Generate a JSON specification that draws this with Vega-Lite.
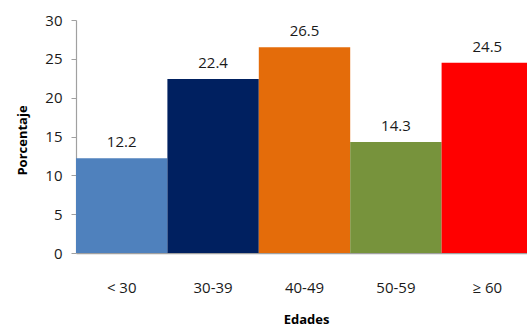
{
  "$schema": "https://vega.github.io/schema/vega-lite/v6.json",
  "autosize": {"type": "none"},
  "width": 451,
  "height": 233,
  "padding": {"left": 76, "top": 20, "right": 0, "bottom": 73},
  "background": "white",
  "config": {"view": {"stroke": null}, "font": "Open Sans"},
  "data": {
    "values": [
      {"edad": "< 30", "porcentaje": 12.2, "color": "#4F81BD"},
      {"edad": "30-39", "porcentaje": 22.4, "color": "#002060"},
      {"edad": "40-49", "porcentaje": 26.5, "color": "#E46C0A"},
      {"edad": "50-59", "porcentaje": 14.3, "color": "#77933C"},
      {"edad": "≥ 60", "porcentaje": 24.5, "color": "#FF0000"}
    ]
  },
  "encoding": {
    "x": {
      "field": "edad",
      "type": "nominal",
      "sort": null,
      "scale": {"range": [0, 457], "paddingInner": 0, "paddingOuter": 0},
      "axis": {
        "title": "Edades",
        "titleFont": "Open Sans",
        "titleFontSize": 13,
        "titleFontWeight": "bold",
        "titleColor": "#000000",
        "titleBaseline": "alphabetic",
        "titleX": 230,
        "titleY": 70,
        "labelAngle": 0,
        "labelFont": "Open Sans",
        "labelFontSize": 15,
        "labelColor": "#1a1a1a",
        "labelBaseline": "alphabetic",
        "labelPadding": 39,
        "ticks": false,
        "tickSize": 0,
        "domainColor": "#a0a0a0",
        "domainWidth": 1.5
      }
    },
    "y": {
      "field": "porcentaje",
      "type": "quantitative",
      "scale": {"domain": [0, 30], "nice": false},
      "axis": {
        "title": "Porcentaje",
        "titleFont": "Open Sans",
        "titleFontSize": 13,
        "titleFontWeight": "bold",
        "titleColor": "#000000",
        "titleBaseline": "alphabetic",
        "titleAngle": -90,
        "titleX": -50,
        "titleY": 120,
        "values": [0, 5, 10, 15, 20, 25, 30],
        "grid": false,
        "labelFont": "Open Sans",
        "labelFontSize": 15,
        "labelColor": "#1a1a1a",
        "labelPadding": 9,
        "tickSize": 5,
        "tickColor": "#a0a0a0",
        "domainColor": "#a0a0a0",
        "domainWidth": 1.2
      }
    }
  },
  "layer": [
    {
      "mark": {"type": "bar", "clip": true},
      "encoding": {
        "color": {"field": "color", "type": "nominal", "scale": null}
      }
    },
    {
      "mark": {
        "type": "text",
        "dy": -11,
        "baseline": "alphabetic",
        "font": "Open Sans",
        "fontSize": 15,
        "color": "#1a1a1a"
      },
      "encoding": {
        "text": {"field": "porcentaje", "type": "quantitative", "format": ".1f"}
      }
    }
  ]
}
